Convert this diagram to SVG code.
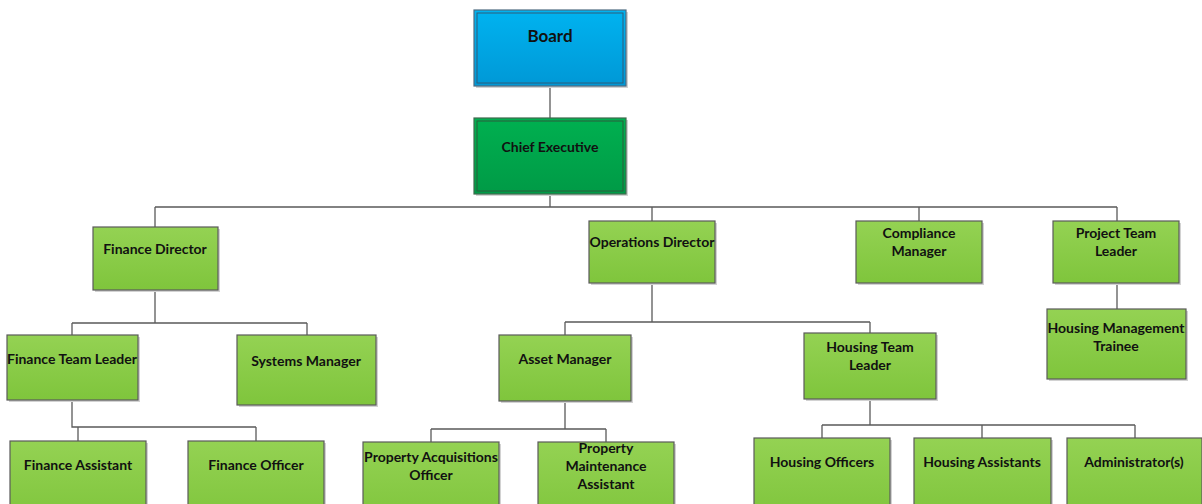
<svg xmlns="http://www.w3.org/2000/svg" width="1202" height="504" viewBox="0 0 1202 504">
<defs>
<linearGradient id="gGreen" x1="0" y1="0" x2="0" y2="1">
<stop offset="0" stop-color="#94D253"/>
<stop offset="1" stop-color="#7FC53C"/>
</linearGradient>
<linearGradient id="gBlue" x1="0" y1="0" x2="0" y2="1">
<stop offset="0" stop-color="#00B3F0"/>
<stop offset="1" stop-color="#0098D6"/>
</linearGradient>
<linearGradient id="gDark" x1="0" y1="0" x2="0" y2="1">
<stop offset="0" stop-color="#00B050"/>
<stop offset="1" stop-color="#009A46"/>
</linearGradient>
</defs>
<style>
.box{fill:url(#gGreen);stroke:#5a5a5a;stroke-width:1.2}
.sh{fill:#d2d2d2}
.t{font-family:Lato,"Liberation Sans",sans-serif;font-weight:bold;font-size:14px;fill:#111;text-anchor:middle}
.con{fill:none;stroke:#5a5a5a;stroke-width:1.3}
</style>
<rect width="1202" height="504" fill="#fff"/>
<g id="connectors" class="con">
<path d="M550 86V118"/>
<path d="M550 194V207M155 207H1117M155 207V227M652 207V221M919 207V221M1117 207V221"/>
<path d="M1117 283V309"/>
<path d="M155 290V323M72 323H307M72 323V335M307 323V335"/>
<path d="M72 400V427H256M78 427V441M256 427V441"/>
<path d="M652 283V322M565 322H870M565 322V335M870 322V333"/>
<path d="M565 401V429M431 429H606M431 429V442M606 429V442"/>
<path d="M870 399V425M822 425H1135M822 425V438M982 425V438M1135 425V438"/>
</g>
<g id="board">
<rect class="sh" x="476" y="12" width="152" height="76"/>
<rect x="474" y="10" width="152" height="76" fill="url(#gBlue)" stroke="#4d6b80" stroke-width="1.2"/>
<rect x="477" y="13" width="146" height="70" fill="none" stroke="#2f5d7a" stroke-width="1"/>
<text class="t" x="550" y="42" style="font-size:17px">Board</text>
</g>
<g id="ceo">
<rect class="sh" x="476" y="120" width="152" height="76"/>
<rect x="474" y="118" width="152" height="76" fill="url(#gDark)" stroke="#3f6b4e" stroke-width="1.2"/>
<rect x="477" y="121" width="146" height="70" fill="none" stroke="#2d5c3c" stroke-width="1"/>
<text class="t" x="550" y="152">Chief Executive</text>
</g>
<g id="finance-director">
<rect class="sh" x="95" y="229" width="125" height="63"/>
<rect class="box" x="93" y="227" width="125" height="63"/>
<text class="t" x="155" y="254">Finance Director</text>
</g>
<g id="operations-director">
<rect class="sh" x="591" y="223" width="126" height="62"/>
<rect class="box" x="589" y="221" width="126" height="62"/>
<text class="t" x="652" y="247">Operations Director</text>
</g>
<g id="compliance-manager">
<rect class="sh" x="858" y="223" width="126" height="62"/>
<rect class="box" x="856" y="221" width="126" height="62"/>
<text class="t" x="919" y="238">Compliance</text>
<text class="t" x="919" y="256">Manager</text>
</g>
<g id="project-team-leader">
<rect class="sh" x="1055" y="223" width="126" height="62"/>
<rect class="box" x="1053" y="221" width="126" height="62"/>
<text class="t" x="1116" y="238">Project Team</text>
<text class="t" x="1116" y="256">Leader</text>
</g>
<g id="housing-management-trainee">
<rect class="sh" x="1049" y="311" width="139" height="70"/>
<rect class="box" x="1047" y="309" width="139" height="70"/>
<text class="t" x="1116" y="333">Housing Management</text>
<text class="t" x="1116" y="351">Trainee</text>
</g>
<g id="finance-team-leader">
<rect class="sh" x="9" y="337" width="131" height="65"/>
<rect class="box" x="7" y="335" width="131" height="65"/>
<text class="t" x="72" y="364">Finance Team Leader</text>
</g>
<g id="systems-manager">
<rect class="sh" x="239" y="337" width="139" height="70"/>
<rect class="box" x="237" y="335" width="139" height="70"/>
<text class="t" x="306" y="366">Systems Manager</text>
</g>
<g id="asset-manager">
<rect class="sh" x="501" y="337" width="132" height="66"/>
<rect class="box" x="499" y="335" width="132" height="66"/>
<text class="t" x="565" y="364">Asset Manager</text>
</g>
<g id="housing-team-leader">
<rect class="sh" x="806" y="335" width="132" height="66"/>
<rect class="box" x="804" y="333" width="132" height="66"/>
<text class="t" x="870" y="352">Housing Team</text>
<text class="t" x="870" y="370">Leader</text>
</g>
<g id="finance-assistant">
<rect class="sh" x="12" y="443" width="136" height="80"/>
<rect class="box" x="10" y="441" width="136" height="80"/>
<text class="t" x="78" y="470">Finance Assistant</text>
</g>
<g id="finance-officer">
<rect class="sh" x="190" y="443" width="136" height="80"/>
<rect class="box" x="188" y="441" width="136" height="80"/>
<text class="t" x="256" y="470">Finance Officer</text>
</g>
<g id="property-acquisitions-officer">
<rect class="sh" x="365" y="444" width="136" height="80"/>
<rect class="box" x="363" y="442" width="136" height="80"/>
<text class="t" x="431" y="462">Property Acquisitions</text>
<text class="t" x="431" y="480">Officer</text>
</g>
<g id="property-maintenance-assistant">
<rect class="sh" x="540" y="444" width="136" height="80"/>
<rect class="box" x="538" y="442" width="136" height="80"/>
<text class="t" x="606" y="453">Property</text>
<text class="t" x="606" y="471">Maintenance</text>
<text class="t" x="606" y="489">Assistant</text>
</g>
<g id="housing-officers">
<rect class="sh" x="756" y="440" width="136" height="80"/>
<rect class="box" x="754" y="438" width="136" height="80"/>
<text class="t" x="822" y="467">Housing Officers</text>
</g>
<g id="housing-assistants">
<rect class="sh" x="916" y="440" width="137" height="80"/>
<rect class="box" x="914" y="438" width="137" height="80"/>
<text class="t" x="982" y="467">Housing Assistants</text>
</g>
<g id="administrators">
<rect class="sh" x="1069" y="440" width="135" height="80"/>
<rect class="box" x="1067" y="438" width="135" height="80"/>
<text class="t" x="1134" y="467">Administrator(s)</text>
</g>
</svg>
